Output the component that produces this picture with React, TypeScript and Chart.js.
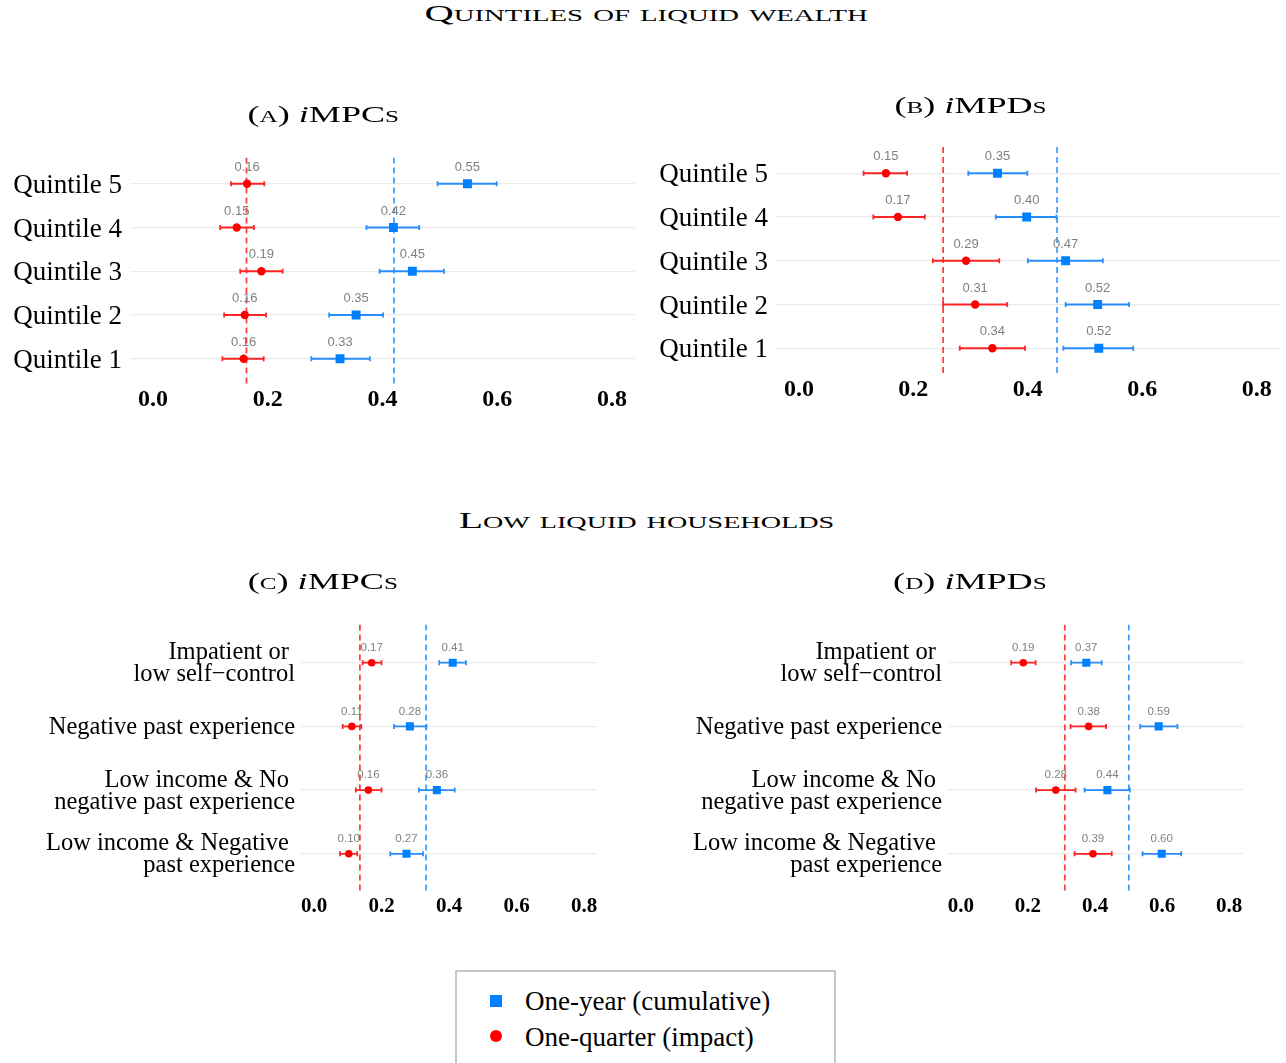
import React, { useEffect, useRef } from "react";
import { Chart, registerables } from "chart.js";

Chart.register(...registerables);

// ---------------- DATA ----------------
const seriesYearName = "One-year (cumulative)";
const seriesQuarterName = "One-quarter (impact)";

const xTickValues = [0, 0.2, 0.4, 0.6, 0.8];

// rows listed top-to-bottom
const quintileCategories = ["Quintile 5", "Quintile 4", "Quintile 3", "Quintile 2", "Quintile 1"];
const lowLiquidCategories = [
  ["Impatient or ", "low self\u2212control"],
  ["Negative past experience"],
  ["Low income & No ", "negative past experience"],
  ["Low income & Negative ", "past experience"],
];

// (A) iMPCs by quintile
const impcQYear = [0.548, 0.419, 0.452, 0.354, 0.326];
const impcQYearLo = [0.496, 0.372, 0.395, 0.307, 0.276];
const impcQYearHi = [0.599, 0.464, 0.507, 0.401, 0.378];
const impcQQuarter = [0.164, 0.146, 0.189, 0.16, 0.158];
const impcQQuarterLo = [0.136, 0.117, 0.152, 0.124, 0.121];
const impcQQuarterHi = [0.194, 0.176, 0.226, 0.197, 0.193];
const impcQYearMean = 0.42;
const impcQQuarterMean = 0.163;

// (B) iMPDs by quintile
const impdQYear = [0.347, 0.398, 0.466, 0.522, 0.524];
const impdQYearLo = [0.296, 0.344, 0.4, 0.466, 0.462];
const impdQYearHi = [0.399, 0.45, 0.531, 0.577, 0.584];
const impdQQuarter = [0.152, 0.173, 0.292, 0.308, 0.338];
const impdQQuarterLo = [0.113, 0.13, 0.234, 0.252, 0.281];
const impdQQuarterHi = [0.189, 0.22, 0.35, 0.364, 0.395];
const impdQYearMean = 0.451;
const impdQQuarterMean = 0.252;

// (C) iMPCs, low liquid households
const impcLYear = [0.411, 0.284, 0.364, 0.274];
const impcLYearLo = [0.371, 0.237, 0.311, 0.226];
const impcLYearHi = [0.45, 0.333, 0.417, 0.323];
const impcLQuarter = [0.171, 0.112, 0.161, 0.103];
const impcLQuarterLo = [0.144, 0.085, 0.124, 0.077];
const impcLQuarterHi = [0.2, 0.14, 0.2, 0.128];
const impcLYearMean = 0.332;
const impcLQuarterMean = 0.136;

// (D) iMPDs, low liquid households
const impdLYear = [0.374, 0.59, 0.437, 0.599];
const impdLYearLo = [0.329, 0.535, 0.369, 0.542];
const impdLYearHi = [0.42, 0.646, 0.504, 0.657];
const impdLQuarter = [0.186, 0.381, 0.283, 0.394];
const impdLQuarterLo = [0.15, 0.327, 0.224, 0.339];
const impdLQuarterHi = [0.223, 0.433, 0.342, 0.45];
const impdLYearMean = 0.501;
const impdLQuarterMean = 0.31;

// ---------------- STYLE ----------------
const SERIF = "'Liberation Serif', 'Times New Roman', serif";
const SANS = "'Liberation Sans', Arial, sans-serif";
const BLUE = "#0080ff";
const RED = "#ff0000";
const BLUE_BAR = "rgba(20,130,255,0.9)";
const RED_BAR = "rgba(255,0,0,0.85)";
const BLUE_DASH = "rgba(30,144,255,0.95)";
const RED_DASH = "rgba(255,30,30,0.85)";

type Box = { left: number; top: number; width: number; height: number };
type Area = { left: number; right: number; top: number; bottom: number };

type PanelProps = {
  categories: (string | string[])[];
  year: number[];
  yearLo: number[];
  yearHi: number[];
  quarter: number[];
  quarterLo: number[];
  quarterHi: number[];
  yearMean: number;
  quarterMean: number;
  box: Box;
  area: Area;
  yFontSize: number;
  yLineHeight: number | string;
  yPad: number;
  yShift: number;
  xFontSize: number;
  xPad: number;
  labelSize: number;
  labelOffset: number;
  circleR: number;
  squareR: number;
};

function ForestPanel(p: PanelProps) {
  const ref = useRef<HTMLCanvasElement>(null);

  useEffect(() => {
    if (!ref.current) return;
    const n = p.categories.length;
    const yMin = 0.4;
    const yMax = n + 0.6;
    const xAxisH = 30;
    const pad = {
      left: 0,
      top: p.area.top - p.box.top,
      right: p.box.left + p.box.width - p.area.right,
      bottom: p.box.top + p.box.height - p.area.bottom - xAxisH,
    };
    const yAxisW = p.area.left - p.box.left;
    const rows = p.categories.map((_, i) => i + 1);
    const cap = 2.5;

    const extras = {
      id: "forestExtras",
      beforeDatasetsDraw(chart: any) {
        const { ctx } = chart;
        const xs = chart.scales.x;
        const ys = chart.scales.y;
        const drawBars = (lo: number[], hi: number[], color: string) => {
          ctx.save();
          ctx.strokeStyle = color;
          ctx.lineWidth = 1.8;
          lo.forEach((l, i) => {
            const py = ys.getPixelForValue(rows[i]);
            const x1 = xs.getPixelForValue(l);
            const x2 = xs.getPixelForValue(hi[i]);
            ctx.beginPath();
            ctx.moveTo(x1, py);
            ctx.lineTo(x2, py);
            ctx.moveTo(x1, py - cap);
            ctx.lineTo(x1, py + cap);
            ctx.moveTo(x2, py - cap);
            ctx.lineTo(x2, py + cap);
            ctx.stroke();
          });
          ctx.restore();
        };
        drawBars(p.yearLo, p.yearHi, BLUE_BAR);
        drawBars(p.quarterLo, p.quarterHi, RED_BAR);
      },
      afterDatasetsDraw(chart: any) {
        const { ctx } = chart;
        const xs = chart.scales.x;
        const ys = chart.scales.y;
        ctx.save();
        ctx.fillStyle = "#808080";
        ctx.font = `${p.labelSize}px ${SANS}`;
        ctx.textAlign = "center";
        ctx.textBaseline = "middle";
        const drawLabels = (vals: number[]) => {
          vals.forEach((v, i) => {
            ctx.fillText(v.toFixed(2), xs.getPixelForValue(v), ys.getPixelForValue(rows[i]) - p.labelOffset);
          });
        };
        drawLabels(p.year);
        drawLabels(p.quarter);
        ctx.restore();
      },
    };

    const chart = new Chart(ref.current, {
      type: "scatter",
      data: {
        datasets: [
          {
            type: "scatter",
            label: seriesYearName,
            data: p.year.map((v, i) => ({ x: v, y: rows[i] })),
            pointStyle: "rect",
            pointRadius: p.squareR,
            backgroundColor: BLUE,
            borderWidth: 0,
            order: 1,
          },
          {
            type: "scatter",
            label: seriesQuarterName,
            data: p.quarter.map((v, i) => ({ x: v, y: rows[i] })),
            pointStyle: "circle",
            pointRadius: p.circleR,
            backgroundColor: RED,
            borderWidth: 0,
            order: 0,
          },
          {
            type: "line",
            label: "mean-year",
            data: [
              { x: p.yearMean, y: yMin },
              { x: p.yearMean, y: yMax },
            ],
            borderColor: BLUE_DASH,
            borderWidth: 1.6,
            borderDash: [6, 4],
            pointRadius: 0,
            fill: false,
            order: 5,
          },
          {
            type: "line",
            label: "mean-quarter",
            data: [
              { x: p.quarterMean, y: yMin },
              { x: p.quarterMean, y: yMax },
            ],
            borderColor: RED_DASH,
            borderWidth: 1.8,
            borderDash: [6, 4],
            pointRadius: 0,
            fill: false,
            order: 5,
          },
        ],
      } as any,
      options: {
        responsive: false,
        maintainAspectRatio: false,
        animation: false,
        devicePixelRatio: 1,
        layout: { padding: pad },
        plugins: {
          legend: { display: false },
          tooltip: { enabled: false },
        },
        scales: {
          x: {
            type: "linear",
            min: -0.04,
            max: 0.84,
            grid: { display: false, drawTicks: false },
            border: { display: false },
            afterBuildTicks: (s: any) => {
              s.ticks = xTickValues.map((v) => ({ value: v }));
            },
            afterFit: (s: any) => {
              s.height = xAxisH;
            },
            ticks: {
              padding: p.xPad,
              autoSkip: false,
              maxRotation: 0,
              color: "#000",
              font: { family: SERIF, size: p.xFontSize, weight: "bold" },
              callback: (v: any) => Number(v).toFixed(1),
            },
          },
          y: {
            type: "linear",
            reverse: true,
            min: yMin,
            max: yMax,
            grid: { color: "#ebebeb", lineWidth: 1.3, drawTicks: false },
            border: { display: false },
            afterBuildTicks: (s: any) => {
              s.ticks = rows.map((v) => ({ value: v }));
            },
            afterFit: (s: any) => {
              s.width = yAxisW;
            },
            ticks: {
              padding: p.yPad,
              labelOffset: p.yShift,
              autoSkip: false,
              color: "#000",
              font: { family: SERIF, size: p.yFontSize, lineHeight: p.yLineHeight },
              callback: (v: any) => p.categories[Math.round(Number(v)) - 1] ?? "",
            },
          },
        },
      } as any,
      plugins: [extras],
    });
    return () => chart.destroy();
  }, []);

  return (
    <canvas
      ref={ref}
      width={p.box.width}
      height={p.box.height}
      style={{
        position: "absolute",
        left: p.box.left,
        top: p.box.top,
        width: p.box.width,
        height: p.box.height,
      }}
    />
  );
}

function Title(props: { cx: number; baseline: number; size: number; sx: number; children: any }) {
  const top = props.baseline - 0.8375 * props.size;
  return (
    <div
      style={{
        position: "absolute",
        left: props.cx - 500,
        width: 1000,
        top,
        textAlign: "center",
        fontFamily: SERIF,
        fontSize: props.size,
        lineHeight: `${props.size}px`,
        whiteSpace: "nowrap",
        color: "#000",
        zIndex: 2,
      }}
    >
      <span style={{ display: "inline-block", transform: `scaleX(${props.sx})` }}>{props.children}</span>
    </div>
  );
}

const sc = { fontVariant: "small-caps" as const };

function PanelTitle({ letter, name }: { letter: string; name: string }) {
  return (
    <>
      (<span style={sc}>{letter}</span>) <i>i</i>
      {name}
      <span style={sc}>s</span>
    </>
  );
}

export default function App() {
  const quintileY = 27;
  return (
    <div
      style={{
        position: "absolute",
        left: 0,
        top: 0,
        width: 1286,
        height: 1063,
        overflow: "hidden",
        background: "#fff",
      }}
    >
      <ForestPanel
        categories={quintileCategories}
        year={impcQYear}
        yearLo={impcQYearLo}
        yearHi={impcQYearHi}
        quarter={impcQQuarter}
        quarterLo={impcQQuarterLo}
        quarterHi={impcQQuarterHi}
        yearMean={impcQYearMean}
        quarterMean={impcQQuarterMean}
        box={{ left: 0, top: 125, width: 645, height: 295 }}
        area={{ left: 130, right: 635, top: 157.5, bottom: 385 }}
        yFontSize={quintileY}
        yLineHeight={1.2}
        yPad={8}
        yShift={2}
        xFontSize={24}
        xPad={0}
        labelSize={13}
        labelOffset={16.5}
        circleR={4.2}
        squareR={6.3}
      />
      <ForestPanel
        categories={quintileCategories}
        year={impdQYear}
        yearLo={impdQYearLo}
        yearHi={impdQYearHi}
        quarter={impdQQuarter}
        quarterLo={impdQQuarterLo}
        quarterHi={impdQQuarterHi}
        yearMean={impdQYearMean}
        quarterMean={impdQQuarterMean}
        box={{ left: 645, top: 115, width: 641, height: 295 }}
        area={{ left: 776, right: 1282, top: 147, bottom: 374.5 }}
        yFontSize={quintileY}
        yLineHeight={1.2}
        yPad={8}
        yShift={2}
        xFontSize={24}
        xPad={0.5}
        labelSize={13}
        labelOffset={16.5}
        circleR={4.2}
        squareR={6.3}
      />
      <ForestPanel
        categories={lowLiquidCategories}
        year={impcLYear}
        yearLo={impcLYearLo}
        yearHi={impcLYearHi}
        quarter={impcLQuarter}
        quarterLo={impcLQuarterLo}
        quarterHi={impcLQuarterHi}
        yearMean={impcLYearMean}
        quarterMean={impcLQuarterMean}
        box={{ left: 0, top: 585, width: 645, height: 340 }}
        area={{ left: 300.5, right: 597.5, top: 624.5, bottom: 892 }}
        yFontSize={24.5}
        yLineHeight={"22px"}
        yPad={5.5}
        yShift={1}
        xFontSize={21}
        xPad={2}
        labelSize={11.5}
        labelOffset={15}
        circleR={3.8}
        squareR={5.7}
      />
      <ForestPanel
        categories={lowLiquidCategories}
        year={impdLYear}
        yearLo={impdLYearLo}
        yearHi={impdLYearHi}
        quarter={impdLQuarter}
        quarterLo={impdLQuarterLo}
        quarterHi={impdLQuarterHi}
        yearMean={impdLYearMean}
        quarterMean={impdLQuarterMean}
        box={{ left: 645, top: 585, width: 641, height: 340 }}
        area={{ left: 947.5, right: 1242.5, top: 624.5, bottom: 892 }}
        yFontSize={24.5}
        yLineHeight={"22px"}
        yPad={5.5}
        yShift={1}
        xFontSize={21}
        xPad={2}
        labelSize={11.5}
        labelOffset={15}
        circleR={3.8}
        squareR={5.7}
      />

      <Title cx={646} baseline={21.5} size={24} sx={1.69}>
        <span style={sc}>Quintiles of liquid wealth</span>
      </Title>
      <Title cx={323} baseline={122} size={23} sx={1.57}>
        <PanelTitle letter="a" name="MPC" />
      </Title>
      <Title cx={970} baseline={113} size={23} sx={1.57}>
        <PanelTitle letter="b" name="MPD" />
      </Title>
      <Title cx={646} baseline={528} size={24} sx={1.655}>
        <span style={sc}>Low liquid households</span>
      </Title>
      <Title cx={323} baseline={589} size={23} sx={1.57}>
        <PanelTitle letter="c" name="MPC" />
      </Title>
      <Title cx={970} baseline={589} size={23} sx={1.57}>
        <PanelTitle letter="d" name="MPD" />
      </Title>

      <div
        style={{
          position: "absolute",
          left: 455,
          top: 970,
          width: 381,
          height: 110,
          border: "2px solid #c8c8c8",
          boxSizing: "border-box",
          fontFamily: SERIF,
          fontSize: 27,
          color: "#000",
        }}
      >
        <div style={{ position: "absolute", left: 33, top: 23, width: 12, height: 12, background: BLUE }} />
        <div
          style={{
            position: "absolute",
            left: 68,
            top: 38.5 - 0.8375 * 27,
            lineHeight: "27px",
            whiteSpace: "nowrap",
          }}
        >
          {seriesYearName}
        </div>
        <div
          style={{
            position: "absolute",
            left: 33,
            top: 58,
            width: 12,
            height: 12,
            borderRadius: "50%",
            background: RED,
          }}
        />
        <div
          style={{
            position: "absolute",
            left: 68,
            top: 74.5 - 0.8375 * 27,
            lineHeight: "27px",
            whiteSpace: "nowrap",
          }}
        >
          {seriesQuarterName}
        </div>
      </div>
    </div>
  );
}
